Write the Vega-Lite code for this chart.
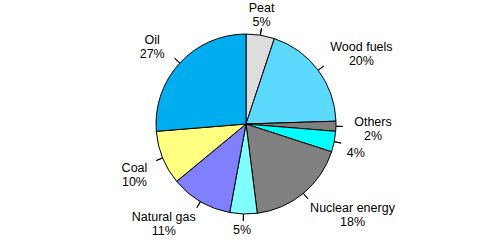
{
  "$schema": "https://vega.github.io/schema/vega-lite/v6.json",
  "width": 492,
  "height": 248,
  "autosize": {"type": "none"},
  "padding": 0,
  "background": "white",
  "view": {"stroke": null},
  "config": {
    "text": {"align": "center", "baseline": "middle", "lineBreak": "\n", "font": "Liberation Sans", "fontSize": 12.5, "lineHeight": 14, "color": "black"}
  },
  "data": {
    "values": [
      {"source": "Peat", "share": 5.1, "label": "Peat\n5%", "ord": 1},
      {"source": "Wood fuels", "share": 19.4, "label": "Wood fuels\n20%", "ord": 2},
      {"source": "Others", "share": 1.8, "label": "Others\n2%", "ord": 3},
      {"source": "Net imports of electricity", "share": 3.7, "label": "4%", "ord": 4},
      {"source": "Nuclear energy", "share": 18.0, "label": "Nuclear energy\n18%", "ord": 5},
      {"source": "Hydro power", "share": 4.9, "label": "5%", "ord": 6},
      {"source": "Natural gas", "share": 11.1, "label": "Natural gas\n11%", "ord": 7},
      {"source": "Coal", "share": 9.7, "label": "Coal\n10%", "ord": 8},
      {"source": "Oil", "share": 26.3, "label": "Oil\n27%", "ord": 9}
    ]
  },
  "encoding": {
    "theta": {"field": "share", "type": "quantitative", "stack": true},
    "order": {"field": "ord", "type": "quantitative"}
  },
  "layer": [
    {
      "mark": {"type": "arc", "outerRadius": 90, "stroke": "black", "strokeWidth": 1},
      "encoding": {
        "color": {
          "field": "source",
          "type": "nominal",
          "scale": {
            "domain": ["Peat", "Wood fuels", "Others", "Net imports of electricity", "Nuclear energy", "Hydro power", "Natural gas", "Coal", "Oil"],
            "range": ["#DDDDDD", "#5CD9FF", "#808080", "#00FFFF", "#808080", "#80FFFF", "#8080FF", "#FFFF80", "#00ADEF"]
          },
          "legend": null
        }
      }
    },
    {
      "mark": {"type": "arc", "outerRadius": 97, "innerRadius": 90, "padAngle": 3, "stroke": "black", "strokeWidth": 1, "fill": "transparent"}
    },
    {
      "mark": {"type": "text", "radius": 110, "dx": -2, "dy": -7},
      "encoding": {"text": {"condition": {"test": "datum.source == 'Peat'", "field": "label", "type": "nominal"}, "value": ""}}
    },
    {
      "mark": {"type": "text", "radius": 134, "dx": 8, "dy": 3},
      "encoding": {"text": {"condition": {"test": "datum.source == 'Wood fuels'", "field": "label", "type": "nominal"}, "value": ""}}
    },
    {
      "mark": {"type": "text", "radius": 127, "dy": -5},
      "encoding": {"text": {"condition": {"test": "datum.source == 'Others'", "field": "label", "type": "nominal"}, "value": ""}}
    },
    {
      "mark": {"type": "text", "radius": 112, "dy": 7},
      "encoding": {"text": {"condition": {"test": "datum.source == 'Net imports of electricity'", "field": "label", "type": "nominal"}, "value": ""}}
    },
    {
      "mark": {"type": "text", "radius": 120, "dx": 30, "dy": -8},
      "encoding": {"text": {"condition": {"test": "datum.source == 'Nuclear energy'", "field": "label", "type": "nominal"}, "value": ""}}
    },
    {
      "mark": {"type": "text", "radius": 105, "dx": -1, "dy": 1},
      "encoding": {"text": {"condition": {"test": "datum.source == 'Hydro power'", "field": "label", "type": "nominal"}, "value": ""}}
    },
    {
      "mark": {"type": "text", "radius": 115, "dx": -24, "dy": -6},
      "encoding": {"text": {"condition": {"test": "datum.source == 'Natural gas'", "field": "label", "type": "nominal"}, "value": ""}}
    },
    {
      "mark": {"type": "text", "radius": 115, "dx": -5, "dy": 1},
      "encoding": {"text": {"condition": {"test": "datum.source == 'Coal'", "field": "label", "type": "nominal"}, "value": ""}}
    },
    {
      "mark": {"type": "text", "radius": 118, "dx": -7, "dy": -4},
      "encoding": {"text": {"condition": {"test": "datum.source == 'Oil'", "field": "label", "type": "nominal"}, "value": ""}}
    }
  ]
}
